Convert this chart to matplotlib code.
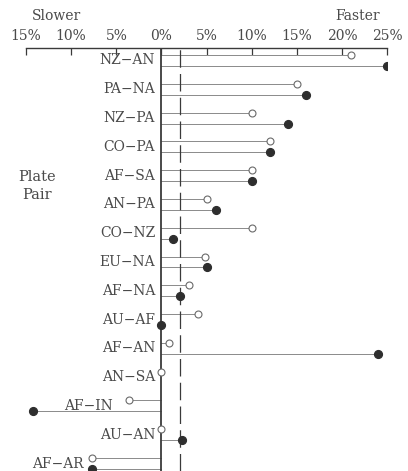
import numpy as np
import matplotlib
matplotlib.use("Agg")
import matplotlib.pyplot as plt

# Relative plate velocity change (%) for each plate pair: two estimates each
pairs = ["NZ−AN", "PA−NA", "NZ−PA", "CO−PA", "AF−SA", "AN−PA", "CO−NZ",
         "EU−NA", "AF−NA", "AU−AF", "AF−AN", "AN−SA", "AF−IN", "AU−AN", "AF−AR"]
open_vals = [21.0, 15.0, 10.0, 12.0, 10.0, 5.0, 10.0,
             4.8, 3.0, 4.0, 0.8, 0.0, -3.6, -0.1, -7.7]
filled_vals = [25.0, 16.0, 14.0, 12.0, 10.0, 6.0, 1.3,
               5.0, 2.0, -0.1, 24.0, np.nan, -14.2, 2.3, -7.7]
tick_vals = [-15, -10, -5, 0, 5, 10, 15, 20, 25]
tick_labels = ["15%", "10%", "5%", "0%", "5%", "10%", "15%", "20%", "25%"]
reference_line = 2.0

# Label anchors (right edge, in axis units) where the default spot is occupied
label_right = {"AF−IN": -5.4, "AF−AR": -8.6}

FONT = ["DejaVu Serif"]
TXT = "#4a4a4a"

fig = plt.figure(figsize=(4.08, 4.71), dpi=100)
ax = fig.add_axes([26 / 408, 0.0, (387.3 - 26) / 408, 1 - 48 / 471])

n = len(pairs)
rows = np.arange(n)
off = 0.19

for i in rows:
    o, f = open_vals[i], filled_vals[i]
    ax.plot([0, o], [i - off, i - off], color="#8a8a8a", lw=0.7, zorder=2)
    if not np.isnan(f):
        ax.plot([0, f], [i + off, i + off], color="#8a8a8a", lw=0.7, zorder=2)

ax.plot(open_vals, rows - off, linestyle="none", marker="o", ms=5,
        mfc="white", mec="#6a6a6a", mew=0.8, zorder=4, clip_on=False)
ax.plot(filled_vals, rows + off, linestyle="none", marker="o", ms=5.6,
        mfc="#2e2e2e", mec="#2e2e2e", zorder=5, clip_on=True)

# zero line and reference line
ax.axvline(0, color="#3a3a3a", lw=1.3, zorder=3)
ax.axvline(reference_line, color="#3a3a3a", lw=0.9, zorder=3,
           dashes=(14, 5))

for i, name in enumerate(pairs):
    x = label_right.get(name, -0.7)
    ax.text(x, i, name, ha="right", va="center", fontsize=10,
            family=FONT, color=TXT, zorder=6)

ax.set_xlim(-15, 25)
ax.set_ylim(14.26, -0.434)

for s in ["left", "right", "bottom"]:
    ax.spines[s].set_visible(False)
ax.spines["top"].set_color("#3a3a3a")
ax.spines["top"].set_linewidth(1.0)
ax.xaxis.set_ticks_position("top")
ax.set_xticks(tick_vals)
ax.set_xticklabels(tick_labels, family=FONT, fontsize=10, color=TXT)
ax.tick_params(axis="x", direction="in", length=5, width=0.9,
               color="#3a3a3a", pad=3.5)
ax.set_yticks([])

fig.text(32 / 408, 1 - 16 / 471, "Slower", ha="left", va="center",
         fontsize=10, family=FONT, color=TXT)
fig.text(380 / 408, 1 - 16 / 471, "Faster", ha="right", va="center",
         fontsize=10, family=FONT, color=TXT)
fig.text(37 / 408, 1 - 186 / 471, "Plate\nPair", ha="center", va="center",
         fontsize=10.5, family=FONT, color=TXT, linespacing=1.3)

fig.savefig("out.png", dpi=100)
